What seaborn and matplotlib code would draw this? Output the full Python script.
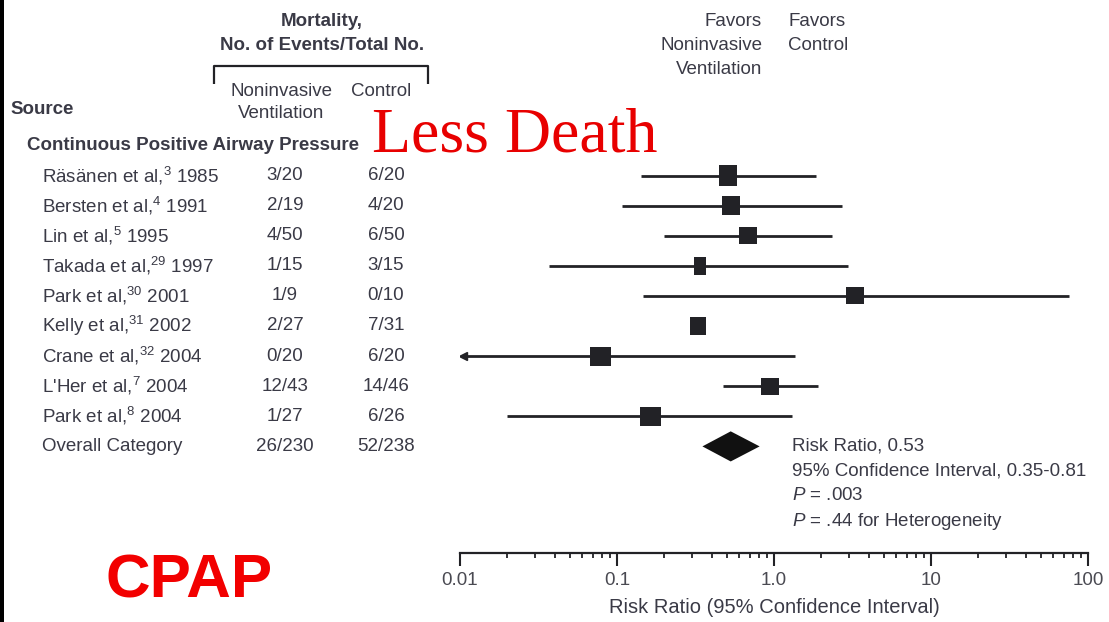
import numpy as np
import pandas as pd
import matplotlib
matplotlib.use("Agg")
import matplotlib.pyplot as plt
import matplotlib.transforms as mtransforms
from matplotlib.patches import Rectangle
from matplotlib.ticker import FixedLocator, FixedFormatter, NullFormatter
import seaborn as sns

# ---- trial data: mortality, CPAP vs control ----
authors = ["Räsänen et al", "Bersten et al", "Lin et al", "Takada et al", "Park et al",
           "Kelly et al", "Crane et al", "L'Her et al", "Park et al"]
refs = [3, 4, 5, 29, 30, 31, 32, 7, 8]
years = [1985, 1991, 1995, 1997, 2001, 2002, 2004, 2004, 2004]
niv_events = [3, 2, 4, 1, 1, 2, 0, 12, 1]
niv_total = [20, 19, 50, 15, 9, 27, 20, 43, 27]
ctl_events = [6, 4, 6, 3, 0, 7, 6, 14, 6]
ctl_total = [20, 20, 50, 15, 10, 31, 20, 46, 26]
risk_ratio = [0.51, 0.53, 0.68, 0.34, 3.3, 0.33, 0.078, 0.94, 0.164]
ci_low = [0.142, 0.107, 0.20, 0.037, 0.146, np.nan, 0.0105, 0.475, 0.020]
ci_high = [1.85, 2.73, 2.34, 2.97, 76.0, np.nan, 1.36, 1.91, 1.30]
ci_truncated = [False, False, False, False, False, False, True, False, False]

pooled_rr = 0.53
pooled_low = 0.35
pooled_high = 0.81
p_overall = ".003"
p_heterogeneity = ".44"

tick_values = [0.01, 0.1, 1.0, 10, 100]
tick_labels = ["0.01", "0.1", "1.0", "10", "100"]

# ---- styling ----
W, H = 1109, 622
INK = "#222226"
TXT = "#3a3a46"
FS = 13.5
box_px = [(18, 21), (18, 19), (18, 17), (12, 18), (18, 17), (16, 18), (21, 19), (18, 17), (21, 19)]

sns.set_theme(style="white")
plt.rcParams["font.family"] = ["Liberation Sans", "DejaVu Sans"]
plt.rcParams["mathtext.fontset"] = "custom"
plt.rcParams["mathtext.rm"] = "Liberation Sans"
plt.rcParams["mathtext.it"] = "Liberation Sans:italic"
plt.rcParams["mathtext.bf"] = "Liberation Sans:bold"

df = pd.DataFrame({
    "author": authors, "ref": refs, "year": years,
    "niv_e": niv_events, "niv_n": niv_total,
    "ctl_e": ctl_events, "ctl_n": ctl_total,
    "rr": risk_ratio, "lo": ci_low, "hi": ci_high, "trunc": ci_truncated,
})
df["row"] = np.arange(len(df))
overall_row = len(df)

fig = plt.figure(figsize=(W / 100, H / 100), dpi=100)

# pixel-based canvas for headings and table text
bg = fig.add_axes([0, 0, 1, 1], zorder=0)
bg.set_xlim(0, W)
bg.set_ylim(H, 0)
bg.axis("off")

# forest-plot axes: log scale along x, study rows along y
x0, x1, y_axis = 460, 1088, 553
row0_px, row_step = 175.5, 30.1
ax = fig.add_axes([x0 / W, (H - y_axis) / H, (x1 - x0) / W, y_axis / H], zorder=1)
ax.patch.set_alpha(0)
ax.set_xscale("log")
ax.set_xlim(tick_values[0], tick_values[-1])
ax.set_ylim((y_axis - row0_px) / row_step, -row0_px / row_step)

# confidence intervals
ax.hlines(df["row"], df["lo"], df["hi"], color=INK, lw=2.0, zorder=2)
trunc = df[df["trunc"]]
ax.plot(trunc["lo"], trunc["row"], marker="<", ms=6, color=INK, lw=0, zorder=3)

# study boxes
for i, r in df.iterrows():
    bw, bh = box_px[i]
    verts = [(-bw, -bh), (bw, -bh), (bw, bh), (-bw, bh), (-bw, -bh)]
    side_pt = max(bw, bh) * 0.72
    sns.scatterplot(x=[r["rr"]], y=[r["row"]], ax=ax, marker=verts, s=side_pt ** 2,
                    color=INK, edgecolor="none", linewidth=0, legend=False, zorder=4)

# pooled estimate diamond
half_h = 0.5
ax.fill([pooled_low, pooled_rr, pooled_high, pooled_rr],
        [overall_row, overall_row - half_h, overall_row, overall_row + half_h],
        color="#111111", lw=0, zorder=4)

# axis styling
for s in ["top", "left", "right"]:
    ax.spines[s].set_visible(False)
ax.spines["bottom"].set_color(INK)
ax.spines["bottom"].set_linewidth(1.6)
ax.yaxis.set_visible(False)
ax.xaxis.set_major_locator(FixedLocator(tick_values))
ax.xaxis.set_major_formatter(FixedFormatter(tick_labels))
minor = [m * 10.0 ** e for e in range(-2, 2) for m in range(2, 10)]
ax.xaxis.set_minor_locator(FixedLocator(minor))
ax.xaxis.set_minor_formatter(NullFormatter())
ax.tick_params(axis="x", which="both", bottom=True, top=False)
ax.tick_params(axis="x", which="major", direction="out", length=9, width=1.5,
               color=INK, pad=5, labelsize=FS, labelcolor="#4a4a52")
ax.tick_params(axis="x", which="minor", direction="out", length=3.5, width=1.3, color=INK)
ax.grid(False)
ax.set_xlabel("Risk Ratio (95% Confidence Interval)", fontsize=14.5, color=TXT, labelpad=6)

# table text aligned to the forest rows
row_tf = mtransforms.blended_transform_factory(bg.transData, ax.transData)
for i, r in df.iterrows():
    label = f"{r['author']},$^{{{r['ref']}}}$ {r['year']}"
    bg.text(42, r["row"], label, transform=row_tf, ha="left", va="center",
            fontsize=FS, color=TXT)
    bg.text(285, r["row"], f"{r['niv_e']}/{r['niv_n']}", transform=row_tf,
            ha="center", va="center", fontsize=FS, color=TXT)
    bg.text(386, r["row"], f"{r['ctl_e']}/{r['ctl_n']}", transform=row_tf,
            ha="center", va="center", fontsize=FS, color=TXT)
bg.text(42, overall_row, "Overall Category", transform=row_tf, ha="left", va="center",
        fontsize=FS, color=TXT)
bg.text(285, overall_row, f"{sum(niv_events)}/{sum(niv_total)}", transform=row_tf,
        ha="center", va="center", fontsize=FS, color=TXT)
bg.text(386, overall_row, f"{sum(ctl_events)}/{sum(ctl_total)}", transform=row_tf,
        ha="center", va="center", fontsize=FS, color=TXT)

# pooled summary
summary = [f"Risk Ratio, {pooled_rr:.2f}",
           f"95% Confidence Interval, {pooled_low:.2f}-{pooled_high:.2f}",
           f"$P$ = {p_overall}",
           f"$P$ = {p_heterogeneity} for Heterogeneity"]
for k, line in enumerate(summary):
    bg.text(792, 446 + 25 * k, line, ha="left", va="center", fontsize=FS, color=TXT)

# column headings
bg.text(322, 22, "Mortality,", ha="center", va="center", fontsize=FS, weight="bold", color=TXT)
bg.text(322, 45, "No. of Events/Total No.", ha="center", va="center", fontsize=FS,
        weight="bold", color=TXT)
bg.plot([214, 214, 428, 428], [84, 66, 66, 84], color=INK, lw=1.6, solid_capstyle="butt")
bg.text(281, 91, "Noninvasive", ha="center", va="center", fontsize=FS, color=TXT)
bg.text(281, 114, "Ventilation", ha="center", va="center", fontsize=FS, color=TXT)
bg.text(381, 91, "Control", ha="center", va="center", fontsize=FS, color=TXT)
bg.text(10, 110, "Source", ha="left", va="center", fontsize=FS, weight="bold", color=TXT)
bg.text(27, 145, "Continuous Positive Airway Pressure", ha="left", va="center",
        fontsize=FS, weight="bold", color=TXT)

for k, line in enumerate(["Favors", "Noninvasive", "Ventilation"]):
    bg.text(762, 22 + 24 * k, line, ha="right", va="center", fontsize=FS, color=TXT)
for k, line in enumerate(["Favors", "Control"]):
    bg.text(788, 22 + 24 * k, line, ha="left", va="center", fontsize=FS, color=TXT)

# callouts
bg.text(372, 151, "Less Death", ha="left", va="baseline", fontsize=46,
        family="Liberation Serif", color="#e80000")
bg.text(106, 598, "CPAP", ha="left", va="baseline", fontsize=44.5, weight="bold",
        color="#f20000")

# dark left border strip
bg.add_patch(Rectangle((0, 0), 3.5, H, color="black", lw=0))

fig.savefig("out.png", dpi=100, facecolor="white")
